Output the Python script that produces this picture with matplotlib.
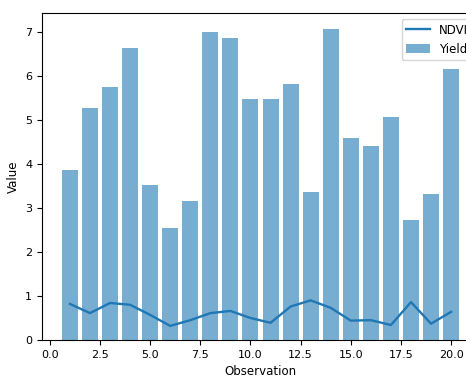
import matplotlib
matplotlib.use("Agg")
import matplotlib.pyplot as plt
import numpy as np

observation = list(range(1, 21))
yield_vals = [3.86, 5.27, 5.75, 6.63, 3.52, 2.55, 3.16, 7.0, 6.86, 5.48,
              5.48, 5.82, 3.36, 7.07, 4.59, 4.41, 5.07, 2.73, 3.32, 6.16]
ndvi_vals = [0.82, 0.61, 0.84, 0.80, 0.57, 0.32, 0.45, 0.61, 0.66, 0.50,
             0.39, 0.76, 0.90, 0.73, 0.44, 0.45, 0.34, 0.86, 0.37, 0.64]

fig = plt.figure(figsize=(4.66, 3.8), dpi=100)
ax = fig.add_axes([42/466, 40/380, (479-42)/466, (340-13)/380])
ax.plot(observation, ndvi_vals, color="#1f77b4", linewidth=1.7, label="NDVI")
ax.bar(observation, yield_vals, color="#1f77b4", alpha=0.6, label="Yield")
ax.set_xlabel("Observation", fontsize=8.5)
ax.set_ylabel("Value", fontsize=8.5)
ax.tick_params(labelsize=8)
ax.legend(loc="upper right", fontsize=8.5)
fig.savefig("out.png", dpi=100)
